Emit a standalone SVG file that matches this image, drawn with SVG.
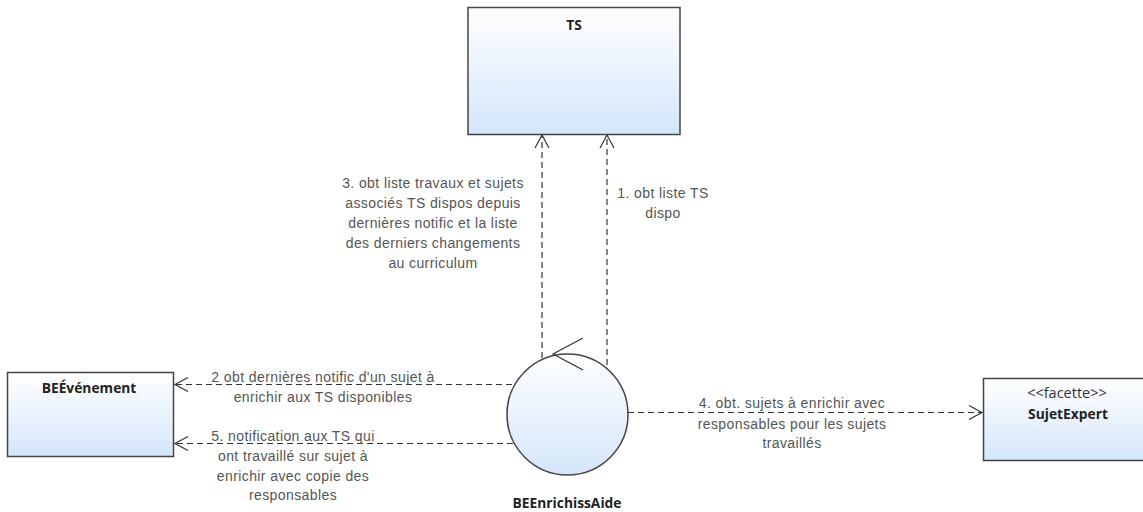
<svg xmlns="http://www.w3.org/2000/svg" width="1143" height="512" viewBox="0 0 1143 512">
<style>
.box{stroke:#454545;stroke-width:1.5;fill:url(#g)}
.name{font-family:"Open Sans","Liberation Sans",sans-serif;font-weight:bold;font-size:13.8px;fill:#222;text-anchor:middle}
.st{font-family:"Open Sans","Liberation Sans",sans-serif;font-size:14.5px;fill:#333;text-anchor:middle}
.lbl{font-family:"Liberation Sans",Arial,sans-serif;font-size:14px;letter-spacing:0.4px;fill:#555;text-anchor:middle}
.dash{stroke:#333;stroke-width:1.2;stroke-dasharray:6,4;fill:none}
.head{stroke:#333;stroke-width:1.2;fill:none}
</style>
<defs>
<linearGradient id="g" x1="0" y1="0" x2="0" y2="1">
<stop offset="0" stop-color="#ffffff"/>
<stop offset="1" stop-color="#d4e6fb"/>
</linearGradient>
</defs>
<g id="TS">
<rect class="box" x="468" y="7.5" width="212" height="127"/>
<text class="name" x="574" y="30">TS</text>
</g>
<g id="BEEvenement">
<rect class="box" x="7.5" y="372.5" width="166" height="84"/>
<text class="name" x="89" y="393">BEÉvénement</text>
</g>
<g id="SujetExpert">
<rect class="box" x="983.5" y="378.5" width="168" height="82"/>
<text class="st" x="1067" y="398">&lt;&lt;facette&gt;&gt;</text>
<text class="name" x="1068" y="419">SujetExpert</text>
</g>
<g id="BEEnrichissAide">
<circle class="box" cx="567.5" cy="414.5" r="60.5"/>
<path class="head" d="M583,338 L553,354 L583,370" stroke-width="1.4"/>
<text class="name" x="567" y="508">BEEnrichissAide</text>
</g>
<g id="connectors">
<line class="dash" x1="542" y1="358" x2="542" y2="135"/>
<path class="head" d="M535,148 L542,135 L549,148"/>
<line class="dash" x1="607" y1="365" x2="607" y2="135"/>
<path class="head" d="M600,148 L607,135 L614,148"/>
<line class="dash" x1="512" y1="384.5" x2="175" y2="384.5"/>
<path class="head" d="M188,377.5 L175,384.5 L188,391.5"/>
<line class="dash" x1="513" y1="443.5" x2="175" y2="443.5"/>
<path class="head" d="M188,436.5 L175,443.5 L188,450.5"/>
<line class="dash" x1="628" y1="412.5" x2="982" y2="412.5"/>
<path class="head" d="M969,405.5 L982,412.5 L969,419.5"/>
<text class="lbl" x="433"><tspan x="433" y="188">3. obt liste travaux et sujets</tspan><tspan x="433" y="208">associés TS dispos depuis</tspan><tspan x="433" y="228">dernières notific et la liste</tspan><tspan x="433" y="248">des derniers changements</tspan><tspan x="433" y="268">au curriculum</tspan></text>
<text class="lbl" x="663"><tspan x="663" y="198">1. obt liste TS</tspan><tspan x="663" y="218">dispo</tspan></text>
<text class="lbl" x="323"><tspan x="323" y="382">2 obt dernières notific d'un sujet à</tspan><tspan x="323" y="402">enrichir aux TS disponibles</tspan></text>
<text class="lbl" x="293"><tspan x="293" y="441">5. notification aux TS qui</tspan><tspan x="293" y="461">ont travaillé sur sujet à</tspan><tspan x="293" y="481">enrichir avec copie des</tspan><tspan x="293" y="500">responsables</tspan></text>
<text class="lbl" x="792"><tspan x="792" y="408">4. obt. sujets à enrichir avec</tspan><tspan x="792" y="429">responsables pour les sujets</tspan><tspan x="792" y="448">travaillés</tspan></text>
</g>
</svg>
